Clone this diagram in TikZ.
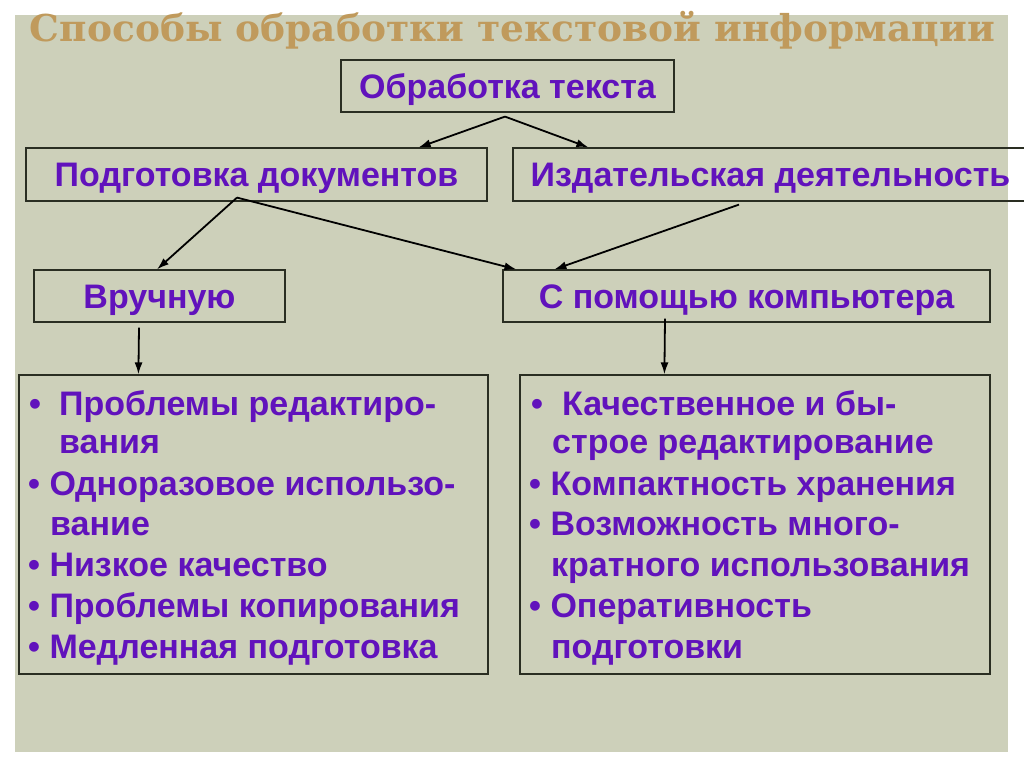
\documentclass[tikz,border=0pt]{standalone}
\usepackage{fontspec}
\usepackage{graphicx}
\setmainfont{Liberation Sans}
\newfontfamily\titlefont{DejaVu Serif}
\usetikzlibrary{calc,arrows.meta}
\definecolor{panel}{HTML}{CDD0BA}
\definecolor{gold}{HTML}{C09A5C}
\definecolor{violet}{HTML}{6112BC}
\definecolor{edge}{HTML}{2A2E22}
\begin{document}
\begin{tikzpicture}[x=1pt,y=-1pt,
  box/.style={draw=edge, line width=1.2pt, rectangle, inner sep=0pt, text=violet,
    text height=25pt, text depth=0pt,
    font=\fontsize{34}{40}\selectfont\bfseries},
  arr/.style={-{Latex[length=12pt,width=8pt]}, line width=1.8pt, black},
  item/.style={anchor=base west, inner sep=0pt, text=violet,
    font=\fontsize{34}{40}\selectfont\bfseries}]
\useasboundingbox (0,0) rectangle (1024,767);
\fill[white] (0,0) rectangle (1024,767);
\fill[panel] (15,15) rectangle (1008,752);
\node[anchor=base, inner sep=0pt, text=gold] (title) at (512.5,42)
  {\resizebox{965pt}{\height}{\titlefont\bfseries\fontsize{37}{40}\selectfont Способы обработки текстовой информации}};
% boxes
\node[box, minimum width=333pt, minimum height=52pt] (obr) at (507.5,86) {Обработка текста};
\node[box, minimum width=461pt, minimum height=53pt] (pod) at (256.5,174.5) {Подготовка документов};
\node[box, minimum width=515pt, minimum height=53pt] (izd) at (770.5,174.5) {Издательская деятельность};
\node[box, minimum width=251pt, minimum height=52pt] (vr) at (159.5,296) {Вручную};
\node[box, minimum width=487pt, minimum height=52pt] (komp) at (746.5,296) {С помощью компьютера};
\node[box, minimum width=469pt, minimum height=299pt] (lbox) at (253.5,524.5) {};
\node[box, minimum width=470pt, minimum height=299pt] (rbox) at (755,524.5) {};
% connector start points
\coordinate (s1) at ($(obr.south)+(-2.5,4)$);
\coordinate (s2) at ($(pod.south)+(-19.5,-4)$);
\coordinate (s3) at ($(izd.south)+(-31.5,3)$);
\coordinate (s4) at ($(vr.south)+(-20.5,5)$);
\coordinate (s5) at ($(komp.south)+(-81.5,-4)$);
% connectors
\draw[arr] (s1) -- ($(pod.north east)+(-69,0)$);
\draw[arr] (s1) -- ($(izd.north west)+(76,0)$);
\draw[arr] (s2) -- ($(vr.north)+(-2.5,0)$);
\draw[arr] (s2) -- ($(komp.north west)+(14,0)$);
\draw[arr] (s3) -- ($(komp.north west)+(52,0)$);
\draw[arr] (s4) -- ($(lbox.north west)+(120,0)$);
\draw[arr] (s5) -- ($(rbox.north west)+(145,0)$);
% left list
\node[item] (l1b) at (29,415) {•};
\node[item] (l1) at (59,415) {Проблемы редактиро-};
\node[item] (l2) at (59,453) {вания};
\node[item] (l3) at (28,495) {• Одноразовое использо-};
\node[item] (l4) at (50,535) {вание};
\node[item] (l5) at (28,576) {• Низкое качество};
\node[item] (l6) at (28,617) {• Проблемы копирования};
\node[item] (l7) at (28,658) {• Медленная подготовка};
% right list
\node[item] (r1b) at (531,415) {•};
\node[item] (r1) at (562,415) {Качественное и бы-};
\node[item] (r2) at (552,453) {строе редактирование};
\node[item] (r3) at (529,495) {• Компактность хранения};
\node[item] (r4) at (529,535) {• Возможность много-};
\node[item] (r5) at (551,576) {кратного использования};
\node[item] (r6) at (529,617) {• Оперативность};
\node[item] (r7) at (551,658) {подготовки};
\end{tikzpicture}
\end{document}
